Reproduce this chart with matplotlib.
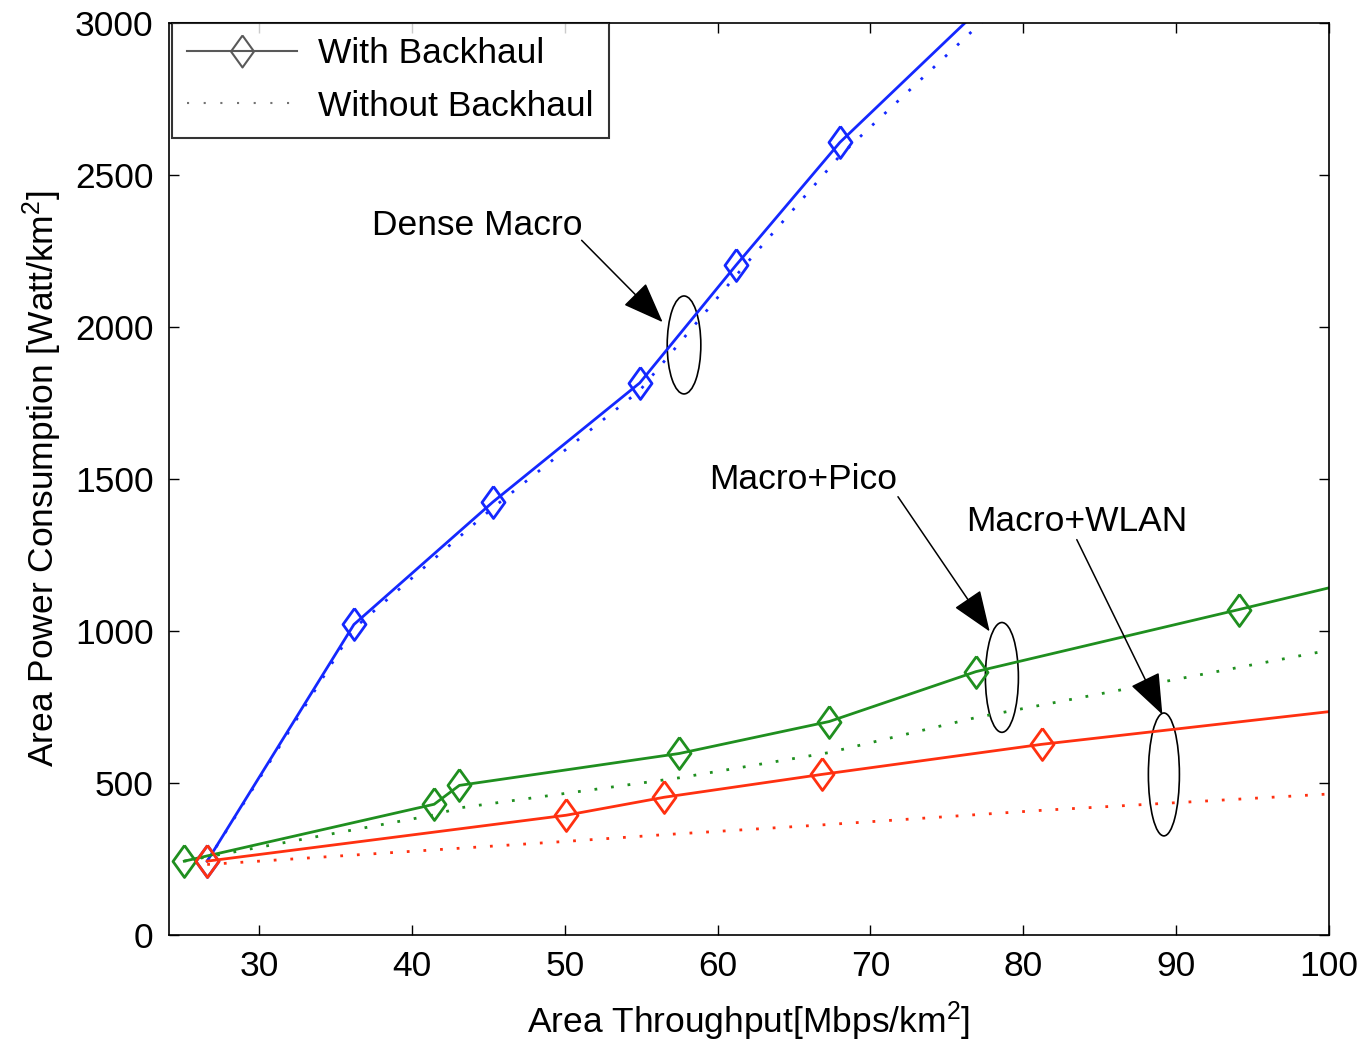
import numpy as np
import matplotlib
matplotlib.use("Agg")
import matplotlib.pyplot as plt
from matplotlib.lines import Line2D
from matplotlib.patches import Ellipse

plt.rcParams["font.family"] = ["Liberation Sans", "DejaVu Sans"]
plt.rcParams["mathtext.fontset"] = "custom"
plt.rcParams["mathtext.rm"] = "Liberation Sans"

# Dense Macro (blue)
macro_x = [26.6, 36.2, 45.3, 54.9, 61.2, 68.0, 80.0]
macro_bh = [243, 1021, 1424, 1815, 2202, 2606, 3182]
macro_nobh = [243, 1008, 1405, 1790, 2168, 2562, 3130]

# Macro+Pico (green)
pico_x = [25.1, 41.45, 43.1, 57.5, 67.3, 76.9, 94.1, 105.0]
pico_bh = [243, 430, 492, 597, 702, 866, 1070, 1202]
pico_nobh = [243, 395, 418, 517, 600, 715, 880, 984]

# Macro+WLAN (red)
wlan_x = [26.6, 50.1, 56.5, 66.8, 81.2, 105.0]
wlan_bh = [243, 394, 453, 528, 627, 763]
wlan_nobh = [232, 308, 330, 362, 410, 478]

xticks = [30, 40, 50, 60, 70, 80, 90, 100]
yticks = [0, 500, 1000, 1500, 2000, 2500, 3000]

blue = "#1428ff"
green = "#1f8f1f"
red = "#ff3010"
fs = 25.5
dots = (0, (1, 5))
diamond = [(0, 1), (0.72, 0), (0, -1), (-0.72, 0), (0, 1)]

fig = plt.figure(figsize=(13.64, 10.43), dpi=100)
ax = fig.add_axes([0.1239, 0.1035, 0.8504, 0.8749])

series = [
    (macro_x, macro_bh, macro_nobh, blue),
    (pico_x, pico_bh, pico_nobh, green),
    (wlan_x, wlan_bh, wlan_nobh, red),
]
for xs, bh, nobh, c in series:
    ax.plot(xs, nobh, color=c, lw=2, linestyle=dots)
    ax.plot(xs, bh, color=c, lw=2, marker=diamond, ms=23,
            mfc="none", mec=c, mew=2)

ax.set_xlim(24.1, 100)
ax.set_ylim(0, 3000)
ax.set_xticks(xticks)
ax.set_yticks(yticks)
ax.tick_params(direction="in", length=7, width=1, top=True, right=True,
               labelsize=fs, pad=11)
for sp in ax.spines.values():
    sp.set_linewidth(1.2)

ax.set_xlabel(r"Area Throughput[Mbps/km$\mathregular{^2}$]", fontsize=fs, labelpad=12)
ax.set_ylabel(r"Area Power Consumption [Watt/km$\mathregular{^2}$]", fontsize=fs, labelpad=8)

handles = [
    Line2D([], [], color="0.35", lw=1.5, marker=diamond, ms=23, mfc="none", mec="0.35", mew=1.5),
    Line2D([], [], color="0.45", lw=1.5, linestyle=(0, (1, 7))),
]
leg = ax.legend(handles, ["With Backhaul", "Without Backhaul"], loc="upper left",
                bbox_to_anchor=(0.003, 1.0),
                fontsize=fs, frameon=True, fancybox=False, borderaxespad=0,
                handlelength=3.1, handletextpad=0.6, labelspacing=0.55,
                borderpad=0.42)
leg.get_frame().set_edgecolor("black")
leg.get_frame().set_linewidth(1.5)

arrow = dict(arrowstyle="-|>,head_length=1.3,head_width=0.5", color="black",
             lw=1.1, mutation_scale=20, shrinkA=0, shrinkB=0)

ax.text(44.3, 2333, "Dense Macro", fontsize=fs, ha="center", va="center")
ax.text(65.6, 1497, "Macro+Pico", fontsize=fs, ha="center", va="center")
ax.text(83.5, 1359, "Macro+WLAN", fontsize=fs, ha="center", va="center")
ax.annotate("", xy=(56.4, 2015), xytext=(51.1, 2284), arrowprops=arrow)
ax.annotate("", xy=(77.8, 998), xytext=(71.8, 1441), arrowprops=arrow)
ax.annotate("", xy=(89.1, 725), xytext=(83.5, 1300), arrowprops=arrow)

for cx, cy, w, h in [(57.8, 1940, 2.2, 322), (78.6, 847, 2.16, 361), (89.2, 528, 2.03, 404)]:
    ax.add_patch(Ellipse((cx, cy), w, h, fill=False, ec="black", lw=1.2))

fig.savefig("out.png", dpi=100)
